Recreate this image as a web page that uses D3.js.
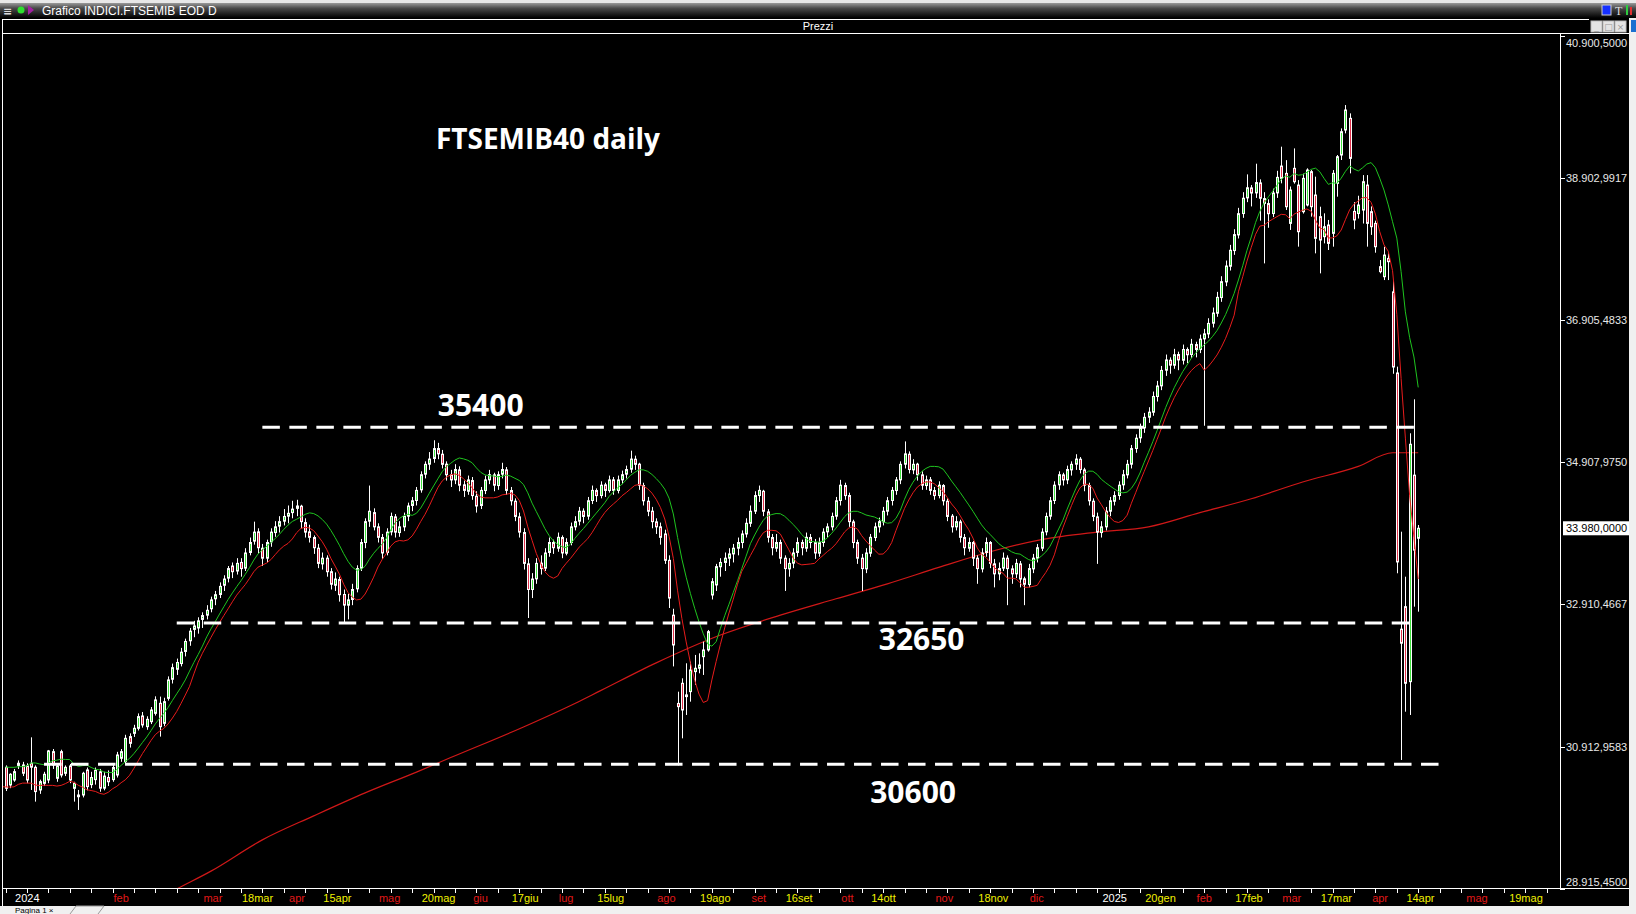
<!DOCTYPE html>
<html>
<head>
<meta charset="utf-8">
<script src="https://cdn.jsdelivr.net/npm/d3@7"></script>
<style>
html, body { margin: 0; padding: 0; background: #000; overflow: hidden; }
svg { display: block; }
</style>
</head>
<body>
<svg id="chart" width="1636" height="914"></svg>
<script>
'use strict';

// bars before the first visible one (they only feed the moving averages)
var preBars = 9;

// daily candles
var opens = [30350, 30420, 30380, 30500, 30460, 30390, 30520, 30470, 30400,
	30623, 30375, 30445, 30650, 30656, 30642, 30680, 30623, 30305, 30398,
	30445, 30843, 30469, 30843, 30539, 30642, 30328, 30234, 30234, 30586,
	30380, 30450, 30560, 30330, 30480, 30450, 30515, 30750, 30703, 31054,
	31100, 31171, 31344, 31194, 31264, 31381, 31522, 31241, 31592, 31860,
	32000, 32080, 32250, 32400, 32560, 32580, 32700, 32760, 32850, 32990,
	33050, 33180, 33280, 33450, 33380, 33500, 33420, 33640, 33800, 33930,
	33700, 33560, 33790, 33920, 34010, 34080, 34150, 34200, 34260, 34290,
	34060, 33930, 33850, 33700, 33480, 33560, 33370, 33180, 33260, 33050,
	32900, 32980, 33130, 33420, 33780, 34080, 34200, 34000, 33850, 33640,
	33930, 34140, 33920, 34000, 34150, 34300, 34370, 34520, 34740, 34880,
	34960, 35100, 35020, 34880, 34730, 34660, 34800, 34590, 34500, 34650,
	34430, 34300, 34510, 34660, 34730, 34580, 34740, 34800, 34510, 34360,
	34140, 33920, 33480, 33120, 33270, 33490, 33420, 33640, 33780, 33700,
	33850, 33630, 33780, 34000, 34080, 34220, 34150, 34370, 34510, 34440,
	34590, 34510, 34660, 34510, 34660, 34740, 34810, 34950, 34880, 34580,
	34360, 34220, 34070, 34000, 33900, 33530, 32760, 31520, 31803, 31640,
	31686, 31967, 32014, 32177, 32271, 33043, 33184, 33440, 33500, 33560,
	33620, 33700, 33780, 33900, 34050, 34220, 34440, 34500, 34210, 33850,
	33700, 33780, 33560, 33410, 33490, 33640, 33780, 33700, 33850, 33780,
	33630, 33780, 33930, 34000, 34150, 34370, 34580, 34440, 34070, 33780,
	33560, 33410, 33630, 33850, 34000, 34070, 34220, 34370, 34510, 34660,
	34880, 35020, 34800, 34880, 34730, 34580, 34660, 34510, 34440, 34580,
	34360, 34150, 34000, 34070, 33850, 33700, 33780, 33560, 33410, 33640,
	33780, 33480, 33340, 33420, 33560, 33410, 33340, 33480, 33270, 33190,
	33410, 33560, 33700, 33930, 34150, 34370, 34590, 34730, 34660, 34800,
	34880, 34950, 34800, 34580, 34360, 34140, 33920, 34000, 34220, 34360,
	34440, 34590, 34730, 34880, 35100, 35250, 35390, 35540, 35610, 35830,
	35980, 36200, 36340, 36270, 36420, 36340, 36490, 36420, 36560, 36490,
	36640, 36710, 36860, 37000, 37220, 37440, 37660, 37880, 38100, 38400,
	38620, 38760, 38690, 38830, 38610, 38540, 38400, 38690, 39067, 38964,
	38262, 39035, 38800, 38426, 38520, 38988, 38660, 38356, 38075, 38239,
	38122, 38824, 39222, 39573, 39737, 38430, 38400, 38449, 38800, 38426,
	38262, 37654, 37513, 37770, 37300, 36161, 32563, 32879, 31826, 34726,
	33840];

var highs = [30560, 30600, 30640, 30680, 30590, 30620, 30650, 30600, 30660,
	30650, 30540, 30600, 30720, 30700, 30680, 31044, 30650, 30450, 30560,
	30867, 30880, 30680, 30870, 30650, 30670, 30420, 30305, 30560, 30620,
	30560, 30620, 30600, 30560, 30580, 30680, 30840, 30880, 31080, 31100,
	31220, 31380, 31400, 31340, 31470, 31620, 31616, 31600, 31900, 32080,
	32150, 32300, 32430, 32580, 32680, 32730, 32800, 32900, 33020, 33100,
	33220, 33320, 33450, 33500, 33560, 33560, 33700, 33850, 34073, 33980,
	33760, 33820, 33980, 34080, 34150, 34250, 34300, 34366, 34380, 34310,
	34120, 34030, 33880, 33760, 33640, 33600, 33420, 33360, 33300, 33120,
	33060, 33200, 33460, 33830, 34120, 34580, 34260, 34050, 33900, 33980,
	34200, 34180, 34080, 34200, 34340, 34420, 34560, 34780, 34920, 35050,
	35216, 35180, 35080, 34920, 34800, 34880, 34850, 34650, 34720, 34700,
	34500, 34560, 34720, 34800, 34760, 34780, 34900, 34840, 34560, 34400,
	34200, 33980, 33560, 33350, 33560, 33600, 33700, 33850, 33820, 33920,
	33880, 33840, 34060, 34150, 34280, 34260, 34420, 34580, 34540, 34640,
	34620, 34720, 34700, 34720, 34790, 34860, 35070, 35000, 34900, 34620,
	34420, 34280, 34120, 34060, 33960, 33600, 32850, 31685, 31873, 32084,
	32107, 32201, 32224, 32388, 32552, 33280, 33480, 33560, 33640, 33700,
	33760, 33850, 33950, 34120, 34300, 34500, 34580, 34520, 34250, 33900,
	33900, 33820, 33600, 33560, 33700, 33850, 33820, 33920, 33900, 33830,
	33850, 33980, 34050, 34200, 34420, 34660, 34620, 34480, 34100, 33820,
	33620, 33700, 33900, 34060, 34130, 34280, 34420, 34560, 34700, 34920,
	35200, 35060, 34950, 34900, 34780, 34720, 34700, 34560, 34640, 34600,
	34400, 34180, 34150, 34100, 33900, 33850, 33800, 33600, 33700, 33850,
	33800, 33550, 33500, 33640, 33600, 33460, 33550, 33520, 33300, 33480,
	33620, 33760, 33980, 34200, 34420, 34640, 34780, 34760, 34860, 34920,
	35020, 34980, 34830, 34620, 34400, 34200, 34080, 34280, 34420, 34500,
	34640, 34800, 34940, 35150, 35300, 35450, 35600, 35680, 35900, 36050,
	36260, 36420, 36380, 36500, 36460, 36560, 36520, 36640, 36600, 36700,
	36780, 36930, 37080, 37300, 37520, 37740, 37960, 38180, 38480, 38700,
	38950, 38800, 39100, 38880, 38700, 38600, 38750, 39000, 39339, 39150,
	38780, 39315, 38870, 38960, 39035, 39011, 38918, 38496, 38403, 38310,
	39011, 39222, 39596, 39924, 39807, 38560, 38650, 38940, 38940, 38500,
	38300, 37747, 37934, 37840, 37450, 36250, 33932, 33300, 35314, 35791,
	34026];

var lows = [30300, 30330, 30350, 30390, 30320, 30360, 30400, 30310, 30360,
	30290, 30330, 30420, 30600, 30500, 30400, 30305, 30141, 30250, 30360,
	30400, 30600, 30420, 30480, 30500, 30400, 30141, 30024, 30200, 30300,
	30330, 30380, 30280, 30300, 30360, 30420, 30480, 30700, 30660, 30900,
	31050, 31140, 31180, 31150, 31230, 31350, 31054, 31200, 31560, 31800,
	31920, 32040, 32180, 32330, 32450, 32500, 32580, 32700, 32800, 32900,
	33000, 33100, 33220, 33280, 33330, 33300, 33380, 33600, 33750, 33620,
	33450, 33500, 33720, 33860, 33920, 34020, 34050, 34120, 34150, 33980,
	33850, 33780, 33620, 33420, 33400, 33300, 33120, 33100, 32950, 32640,
	32700, 32900, 33080, 33380, 33700, 34000, 33950, 33780, 33550, 33600,
	33880, 33850, 33860, 33940, 34080, 34220, 34300, 34480, 34680, 34800,
	34900, 34950, 34820, 34650, 34560, 34600, 34500, 34420, 34450, 34380,
	34200, 34250, 34460, 34600, 34500, 34520, 34680, 34450, 34300, 34080,
	33850, 33400, 32720, 33000, 33200, 33330, 33380, 33580, 33620, 33650,
	33560, 33600, 33740, 33950, 34020, 34050, 34100, 34320, 34350, 34400,
	34420, 34480, 34450, 34470, 34600, 34680, 34760, 34800, 34520, 34300,
	34150, 33980, 33900, 33750, 33480, 32860, 32040, 30650, 31030, 31358,
	31545, 31780, 31943, 31920, 32247, 32980, 33100, 33300, 33380, 33450,
	33500, 33600, 33700, 33850, 34000, 34180, 34350, 34150, 33780, 33600,
	33650, 33480, 33100, 33300, 33420, 33580, 33600, 33650, 33700, 33550,
	33580, 33720, 33850, 33950, 34100, 34300, 34380, 34000, 33700, 33480,
	33100, 33350, 33580, 33800, 33920, 34020, 34160, 34300, 34450, 34600,
	34820, 34750, 34740, 34650, 34520, 34520, 34450, 34380, 34400, 34300,
	34080, 33920, 33950, 33780, 33600, 33650, 33450, 33200, 33360, 33580,
	33420, 33150, 33250, 33380, 32900, 33200, 33280, 33150, 32900, 33150,
	33350, 33500, 33660, 33880, 34100, 34320, 34520, 34580, 34600, 34720,
	34800, 34750, 34500, 34300, 34080, 33480, 33850, 33950, 34150, 34300,
	34380, 34520, 34680, 34820, 35040, 35180, 35320, 35460, 35560, 35760,
	35920, 36120, 36150, 36220, 36200, 36280, 36300, 36370, 36380, 36440,
	35420, 36650, 36800, 36950, 37160, 37380, 37600, 37820, 38050, 38340,
	38560, 38500, 38620, 38300, 37700, 38200, 38350, 38620, 38824, 38450,
	38170, 38820, 37935, 38400, 38500, 38356, 37841, 37560, 37981, 37888,
	37935, 38637, 39152, 39526, 38964, 38180, 38330, 38260, 37935, 38100,
	37850, 37560, 37466, 37466, 36150, 33348, 30726, 31404, 31358, 32879,
	32809];

var closes = [30420, 30380, 30500, 30460, 30390, 30520, 30470, 30400, 30560,
	30328, 30525, 30562, 30680, 30540, 30445, 30625, 30282, 30422, 30525,
	30853, 30656, 30642, 30515, 30623, 30445, 30398, 30210, 30539, 30352,
	30480, 30580, 30330, 30500, 30420, 30620, 30796, 30843, 31030, 30960,
	31171, 31335, 31218, 31297, 31428, 31569, 31194, 31545, 31850, 32022,
	32095, 32240, 32390, 32535, 32608, 32680, 32754, 32828, 32974, 33047,
	33164, 33267, 33414, 33370, 33487, 33414, 33633, 33780, 33926, 33707,
	33560, 33780, 33926, 34000, 34073, 34146, 34190, 34249, 34293, 34073,
	33926, 33853, 33707, 33487, 33560, 33370, 33194, 33267, 33047, 32901,
	32974, 33120, 33414, 33780, 34073, 34219, 34000, 33853, 33633, 33926,
	34146, 33926, 34000, 34146, 34293, 34366, 34512, 34732, 34878, 34952,
	35099, 35025, 34878, 34732, 34659, 34805, 34585, 34512, 34659, 34439,
	34293, 34512, 34659, 34732, 34585, 34732, 34805, 34512, 34366, 34146,
	33926, 33487, 33120, 33267, 33487, 33414, 33633, 33780, 33707, 33853,
	33633, 33780, 34000, 34073, 34219, 34146, 34366, 34512, 34439, 34585,
	34512, 34659, 34512, 34659, 34732, 34805, 34952, 34878, 34585, 34366,
	34219, 34073, 34000, 33853, 33530, 33000, 32341, 31475, 31428, 31616,
	31990, 32014, 32060, 32271, 32528, 33230, 33441, 33500, 33560, 33620,
	33700, 33780, 33900, 34050, 34219, 34439, 34512, 34219, 33853, 33707,
	33780, 33560, 33414, 33487, 33633, 33780, 33707, 33853, 33780, 33633,
	33780, 33926, 34000, 34146, 34366, 34585, 34439, 34073, 33780, 33560,
	33414, 33633, 33853, 34000, 34073, 34219, 34366, 34512, 34659, 34878,
	35025, 34805, 34878, 34732, 34585, 34659, 34512, 34439, 34585, 34366,
	34146, 34000, 34073, 33853, 33707, 33780, 33560, 33414, 33633, 33780,
	33487, 33340, 33414, 33560, 33414, 33340, 33487, 33267, 33194, 33414,
	33560, 33707, 33926, 34146, 34366, 34585, 34732, 34659, 34805, 34878,
	34952, 34805, 34585, 34366, 34146, 33926, 34000, 34219, 34366, 34439,
	34585, 34732, 34878, 35099, 35245, 35392, 35538, 35611, 35831, 35978,
	36197, 36344, 36271, 36417, 36344, 36491, 36417, 36564, 36491, 36637,
	36710, 36857, 37003, 37223, 37443, 37663, 37884, 38104, 38398, 38615,
	38762, 38688, 38835, 38615, 38542, 38398, 38688, 38908, 38894, 38496,
	38730, 38847, 38145, 38894, 39011, 38496, 38052, 38028, 38215, 37981,
	38964, 39198, 39549, 39854, 39175, 38310, 38520, 38847, 38262, 38215,
	37934, 37584, 37817, 37724, 36245, 33507, 32366, 31803, 35160, 33673,
	33980];

// long moving average (bar index, value)
var longMaBar = [30, 40, 48, 60, 72, 84, 96, 104, 121, 133, 139, 152, 167, 181, 194, 206, 218, 230, 242, 255, 267, 279, 291, 303, 316, 324, 330];
var longMaVal = [28585, 28915, 29165, 29604, 29941, 30264, 30556, 30760, 31190, 31520, 31700, 32090, 32481, 32760, 32990, 33200, 33430, 33650, 33820, 33926, 34000, 34200, 34395, 34630, 34850, 35041, 35041];

// support / resistance lines (value, label, first and last bar)
var levelVal = [35400, 32650, 30665];
var levelText = ['35400', '32650', '30600'];
var levelFrom = [60, 40, 9];
var levelTo = [329, 328, 335];

// price axis
var yTicks = [40900.5, 38902.9917, 36905.4833, 34907.975, 32910.4667, 30912.9583, 28915.45];
var lastPrice = 33980;

// time axis labels: bar index, text, kind (y = year, m = month, d = day)
var xLabelBar = [2, 25, 46, 55, 66, 74, 87, 97, 109, 118, 129, 138, 152, 162, 174, 182, 195, 202, 217, 227, 239, 256, 266, 278, 287, 298, 307, 319, 327, 341, 351];
var xLabelText = ['2024', 'feb', 'mar', '18mar', 'apr', '15apr', 'mag', '20mag', 'giu', '17giu', 'lug', '15lug', 'ago', '19ago', 'set', '16set', 'ott', '14ott', 'nov', '18nov', 'dic', '2025', '20gen', 'feb', '17feb', 'mar', '17mar', 'apr', '14apr', 'mag', '19mag'];
var xLabelKind = ['y', 'm', 'm', 'd', 'm', 'd', 'm', 'd', 'm', 'd', 'm', 'd', 'm', 'd', 'm', 'd', 'm', 'd', 'm', 'd', 'm', 'y', 'd', 'm', 'd', 'm', 'd', 'm', 'd', 'm', 'd'];

var width = 1636;
var height = 914;
var plotL = 3, plotR = 1560, plotT = 34, plotB = 888;

var svg = d3.select('#chart');

// one bar every 4.281 px
var x = d3.scaleLinear()
	.domain([0, 100])
	.range([5.5, 5.5 + 428.1]);

var y = d3.scaleLinear()
	.domain([28915.45, 40900.5])
	.range([888.9, 35.5]);

var itFmt = d3.formatLocale({ decimal: ',', thousands: '.', grouping: [3] }).format(',.4f');

// moving averages of the highs (green) and of the lows (red)
function sma(arr, n) {
	return arr.map(function (v, k) {
		return k < n - 1 ? null : d3.mean(arr.slice(k - n + 1, k + 1));
	});
}
var maHigh = sma(highs, 10);
var maLow = sma(lows, 8);

var bars = closes.map(function (c, k) {
	return { i: k - preBars, o: opens[k], h: highs[k], l: lows[k], c: c, mh: maHigh[k], ml: maLow[k] };
});

// ---------- window chrome ----------
var defs = svg.append('defs');
var grad = defs.append('linearGradient').attr('id', 'titleGrad').attr('x1', 0).attr('y1', 0).attr('x2', 0).attr('y2', 1);
grad.append('stop').attr('offset', '0%').attr('stop-color', '#9a9a9a');
grad.append('stop').attr('offset', '35%').attr('stop-color', '#4a4a4a');
grad.append('stop').attr('offset', '100%').attr('stop-color', '#000');

defs.append('clipPath').attr('id', 'plotClip')
	.append('rect')
	.attr('x', plotL).attr('y', plotT)
	.attr('width', plotR - plotL).attr('height', plotB - plotT);

svg.append('rect').attr('width', width).attr('height', height).attr('fill', '#000');

svg.append('rect').attr('x', 0).attr('y', 0).attr('width', width).attr('height', 3).attr('fill', '#e8e8e8');
svg.append('rect').attr('x', 0).attr('y', 3).attr('width', width).attr('height', 15).attr('fill', 'url(#titleGrad)');

svg.append('text')
	.attr('x', 42).attr('y', 15)
	.attr('fill', '#fff')
	.style('font', '12px "Liberation Sans", Arial, sans-serif')
	.text('Grafico INDICI.FTSEMIB EOD D');

// little icons in the title bar
svg.append('text').attr('x', 3).attr('y', 15).attr('fill', '#ddd')
	.style('font', 'bold 11px "DejaVu Sans", sans-serif').text('\u2261');
svg.append('circle').attr('cx', 21).attr('cy', 10).attr('r', 3.5).attr('fill', '#2ee02e');
svg.append('path').attr('d', 'M28,5 L34,10 L28,15 Z').attr('fill', '#a020a0');

svg.append('rect').attr('x', 1602).attr('y', 5).attr('width', 9).attr('height', 10).attr('fill', '#1530ff').attr('stroke', '#ccc');
svg.append('text').attr('x', 1615).attr('y', 15).attr('fill', '#ddd')
	.style('font', '12px "Liberation Serif", serif').text('T');
svg.append('rect').attr('x', 1626).attr('y', 5).attr('width', 2).attr('height', 10).attr('fill', '#2ecc40');
svg.append('rect').attr('x', 1630).attr('y', 7).attr('width', 2).attr('height', 8).attr('fill', '#e03030');

// "Prezzi" bar
svg.append('line').attr('x1', 2).attr('x2', 1589).attr('y1', 19.5).attr('y2', 19.5).attr('stroke', '#fff');
svg.append('line').attr('x1', 2).attr('x2', 1629).attr('y1', 33.5).attr('y2', 33.5).attr('stroke', '#fff');
svg.append('text')
	.attr('x', 818).attr('y', 30)
	.attr('text-anchor', 'middle')
	.attr('fill', '#fff')
	.style('font', '11px "Liberation Sans", Arial, sans-serif')
	.text('Prezzi');

// window buttons
[1591, 1603, 1615].forEach(function (bx, k) {
	svg.append('rect').attr('x', bx).attr('y', 21).attr('width', 11).attr('height', 11)
		.attr('fill', '#e4e4e4').attr('stroke', '#bdbdbd');
	svg.append('text').attr('x', bx + 5.5).attr('y', 30).attr('text-anchor', 'middle')
		.attr('fill', '#999').style('font', '9px "DejaVu Sans", sans-serif')
		.text(['_', '\u25a1', '\u00d7'][k]);
});

// right side panel
svg.append('rect').attr('x', 1629).attr('y', 18).attr('width', 7).attr('height', height - 18).attr('fill', '#f0f0f0');
svg.append('rect').attr('x', 1631).attr('y', 20).attr('width', 5).attr('height', 12).attr('fill', '#1a6fd0');

// bottom tab strip
svg.append('rect').attr('x', 0).attr('y', 906).attr('width', width).attr('height', 8).attr('fill', '#f0f0f0');
svg.append('text').attr('x', 15).attr('y', 913).attr('fill', '#000')
	.style('font', '8px "Liberation Sans", Arial, sans-serif').text('Pagina 1  \u00d7');
svg.append('path').attr('d', 'M70,914 L76,906 L104,906 L98,914').attr('fill', 'none').attr('stroke', '#999');

// left border
svg.append('line').attr('x1', 2.5).attr('x2', 2.5).attr('y1', 19).attr('y2', 906).attr('stroke', '#fff');

// ---------- plot ----------
var plot = svg.append('g').attr('clip-path', 'url(#plotClip)');

// long moving average
plot.append('path')
	.datum(longMaBar.map(function (b, k) { return [b, longMaVal[k]]; }))
	.attr('fill', 'none')
	.attr('stroke', '#d01818')
	.attr('stroke-width', 1.2)
	.attr('d', d3.line()
		.x(function (d) { return x(d[0]); })
		.y(function (d) { return y(d[1]); })
		.curve(d3.curveMonotoneX));

// candles
var candle = plot.selectAll('g.candle')
	.data(bars)
	.enter()
	.append('g')
	.attr('class', 'candle');

candle.append('line')
	.attr('x1', function (d) { return Math.round(x(d.i)) + 0.5; })
	.attr('x2', function (d) { return Math.round(x(d.i)) + 0.5; })
	.attr('y1', function (d) { return y(d.h); })
	.attr('y2', function (d) { return y(d.l); })
	.attr('stroke', '#fff')
	.attr('stroke-width', 1);

candle.append('rect')
	.attr('x', function (d) { return Math.round(x(d.i)) - 0.5; })
	.attr('y', function (d) { return y(Math.max(d.o, d.c)); })
	.attr('width', 2)
	.attr('height', function (d) { return Math.max(0.5, Math.abs(y(d.o) - y(d.c))); })
	.attr('fill', function (d) { return d.c >= d.o ? '#3ee03e' : '#e0304a'; })
	.attr('stroke', '#fff')
	.attr('stroke-width', 1);

// moving averages of highs and lows
var maLine = function (key) {
	return d3.line()
		.defined(function (d) { return d[key] != null; })
		.x(function (d) { return x(d.i); })
		.y(function (d) { return y(d[key]); });
};
plot.append('path').datum(bars)
	.attr('fill', 'none').attr('stroke', '#1fc41f').attr('stroke-width', 1)
	.attr('d', maLine('mh'));
plot.append('path').datum(bars)
	.attr('fill', 'none').attr('stroke', '#e81c1c').attr('stroke-width', 1)
	.attr('d', maLine('ml'));

// dashed levels
levelVal.forEach(function (v, k) {
	plot.append('line')
		.attr('x1', x(levelFrom[k])).attr('x2', x(levelTo[k]))
		.attr('y1', y(v)).attr('y2', y(v))
		.attr('stroke', '#fff')
		.attr('stroke-width', 3)
		.attr('stroke-dasharray', '17.5 9.5');
});

// level labels
var levelLabelBar = [111, 214, 212];
var levelLabelDy = [-11, 27, 39];
levelVal.forEach(function (v, k) {
	svg.append('text')
		.attr('x', x(levelLabelBar[k])).attr('y', y(v) + levelLabelDy[k])
		.attr('text-anchor', 'middle')
		.attr('fill', '#fff')
		.style('font', 'bold 30px "Open Sans", "Liberation Sans", sans-serif')
		.text(levelText[k]);
});

// title
svg.append('text')
	.attr('x', 548).attr('y', 149)
	.attr('text-anchor', 'middle')
	.attr('fill', '#fff')
	.style('font', 'bold 28px "Open Sans", "Liberation Sans", sans-serif')
	.text('FTSEMIB40 daily');

// ---------- axes ----------
svg.append('line').attr('x1', plotR + 0.5).attr('x2', plotR + 0.5).attr('y1', plotT).attr('y2', plotB)
	.attr('stroke', '#fff');
svg.append('line').attr('x1', plotL).attr('x2', 1629).attr('y1', plotB + 0.5).attr('y2', plotB + 0.5)
	.attr('stroke', '#fff');

var yAxis = svg.append('g');
yAxis.selectAll('line')
	.data(yTicks)
	.enter()
	.append('line')
	.attr('x1', plotR).attr('x2', plotR + 5)
	.attr('y1', function (d) { return Math.round(y(d)) + 0.5; })
	.attr('y2', function (d) { return Math.round(y(d)) + 0.5; })
	.attr('stroke', '#fff');
yAxis.selectAll('text')
	.data(yTicks)
	.enter()
	.append('text')
	.attr('x', plotR + 6)
	.attr('y', function (d, k) {
		if (k === 0) return y(d) + 11;
		if (k === yTicks.length - 1) return y(d) - 3;
		return y(d) + 4;
	})
	.attr('fill', '#e8e8e8')
	.style('font', '11px "Liberation Sans", Arial, sans-serif')
	.text(function (d) { return itFmt(d); });

// last price marker
svg.append('rect')
	.attr('x', plotR + 3).attr('y', y(lastPrice) - 7)
	.attr('width', 66).attr('height', 14)
	.attr('fill', '#fff');
svg.append('text')
	.attr('x', plotR + 6).attr('y', y(lastPrice) + 4)
	.attr('fill', '#000')
	.style('font', '11px "Liberation Sans", Arial, sans-serif')
	.text(itFmt(lastPrice));

// time axis
var xAxis = svg.append('g');
xAxis.selectAll('line.tick')
	.data(d3.range(0, 364, 5))
	.enter()
	.append('line')
	.attr('class', 'tick')
	.attr('x1', function (d) { return Math.round(x(d)) + 0.5; })
	.attr('x2', function (d) { return Math.round(x(d)) + 0.5; })
	.attr('y1', plotB).attr('y2', plotB + 5)
	.attr('stroke', '#fff');

var labelColor = { y: '#ffffff', m: '#e01818', d: '#f0f000' };
xAxis.selectAll('text')
	.data(xLabelBar)
	.enter()
	.append('text')
	.attr('x', function (d) { return x(d) + 1; })
	.attr('y', 902)
	.attr('fill', function (d, k) { return labelColor[xLabelKind[k]]; })
	.style('font', '11px "Liberation Sans", Arial, sans-serif')
	.text(function (d, k) { return xLabelText[k]; });
</script>
</body>
</html>
